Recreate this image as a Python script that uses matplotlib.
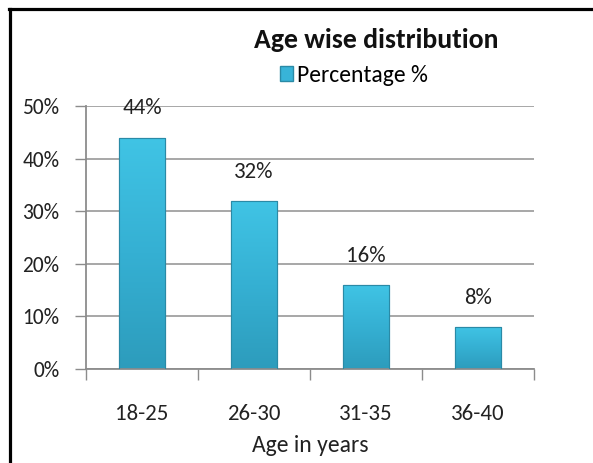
import numpy as np
import matplotlib
matplotlib.use("Agg")
import matplotlib.pyplot as plt
from matplotlib import font_manager
from matplotlib.lines import Line2D
from matplotlib.patches import Rectangle
from matplotlib.colors import LinearSegmentedColormap

categories = ["18-25", "26-30", "31-35", "36-40"]
values = [0.44, 0.32, 0.16, 0.08]
value_labels = ["44%", "32%", "16%", "8%"]
yticks = [0.0, 0.1, 0.2, 0.3, 0.4, 0.5]
ytick_labels = ["0%", "10%", "20%", "30%", "40%", "50%"]
title = "Age wise distribution"
series_name = "Percentage %"
xlabel = "Age in years"

names = {f.name for f in font_manager.fontManager.ttflist}
chosen = "Open Sans"
for cand in ["Carlito", "Liberation Sans Narrow", "Open Sans"]:
    if cand in names:
        chosen = cand
        break
plt.rcParams['font.family'] = [chosen, 'DejaVu Sans']

W, H = 593, 463
fig = plt.figure(figsize=(W / 100, H / 100), dpi=100)
ax = fig.add_axes([86 / W, 1 - 369 / H, (534 - 86) / W, (369 - 106) / H])

cmap = LinearSegmentedColormap.from_list("bar", ["#2d9cbc", "#35b0d3", "#40c4e5"])
x = np.arange(len(categories))
bars = ax.bar(x, values, width=0.41, color="#35b0d3", edgecolor="#2a8aa6",
              linewidth=0.8, zorder=2)
grad = np.linspace(0, 1, 256).reshape(-1, 1)
for b in bars:
    x0, y0 = b.get_x(), b.get_y()
    w, h = b.get_width(), b.get_height()
    im = ax.imshow(grad, cmap=cmap, origin="lower", aspect="auto",
                   extent=[x0, x0 + w, y0, y0 + h], zorder=2.5)
    im.set_clip_path(b)
    ax.add_patch(Rectangle((x0, y0), w, h, fill=False, edgecolor="#2a8aa6",
                           linewidth=0.8, zorder=3))
ax.set_xlim(-0.5, len(categories) - 0.5)
ax.set_ylim(0, 0.5)

for xi, v, lab in zip(x, values, value_labels):
    ax.annotate(lab, (xi, v), xytext=(0, 21), textcoords="offset points",
                ha="center", va="center", fontsize=16.5, color="#222222")

ax.set_yticks(yticks)
ax.set_yticklabels(ytick_labels)
ax.set_xticks(x)
ax.set_xticklabels(categories)
ax.set_xticks(np.arange(len(categories) + 1) - 0.5, minor=True)
ax.tick_params(axis="x", which="major", length=0, pad=25, labelsize=16.5, labelcolor="#222222")
ax.tick_params(axis="x", which="minor", length=8, color="#8c8c8c", width=1)
ax.tick_params(axis="y", length=8, color="#8c8c8c", width=1, labelsize=15.5,
               labelcolor="#222222", pad=11)
ax.yaxis.grid(True, color="#a0a0a0", linewidth=1.3, zorder=0)
ax.set_axisbelow(True)
for s in ["top", "right"]:
    ax.spines[s].set_visible(False)
for s in ["left", "bottom"]:
    ax.spines[s].set_color("#8c8c8c")
    ax.spines[s].set_linewidth(1.3)
ax.set_xlabel(xlabel, fontsize=17, color="#222222", labelpad=8)

fig.text(376 / W, 1 - 40 / H, title, ha="center", va="center",
         fontsize=20, fontweight="bold", color="#111111")
handle = Rectangle((0, 0), 1, 1, facecolor="#38b4d8", edgecolor="#2a8aa6")
fig.legend([handle], [series_name], loc="center", bbox_to_anchor=(354 / W, 1 - 75 / H),
           frameon=False, fontsize=17, handlelength=0.55, handleheight=0.6,
           handletextpad=0.15, borderpad=0)

fig.add_artist(Line2D([9.5 / W, 9.5 / W], [0, 1 - 9 / H], color="black", linewidth=2.3,
                      transform=fig.transFigure))
fig.add_artist(Line2D([8.5 / W, 1], [1 - 9 / H, 1 - 9 / H], color="black", linewidth=2.3,
                      transform=fig.transFigure))

fig.savefig("out.png", dpi=100)
